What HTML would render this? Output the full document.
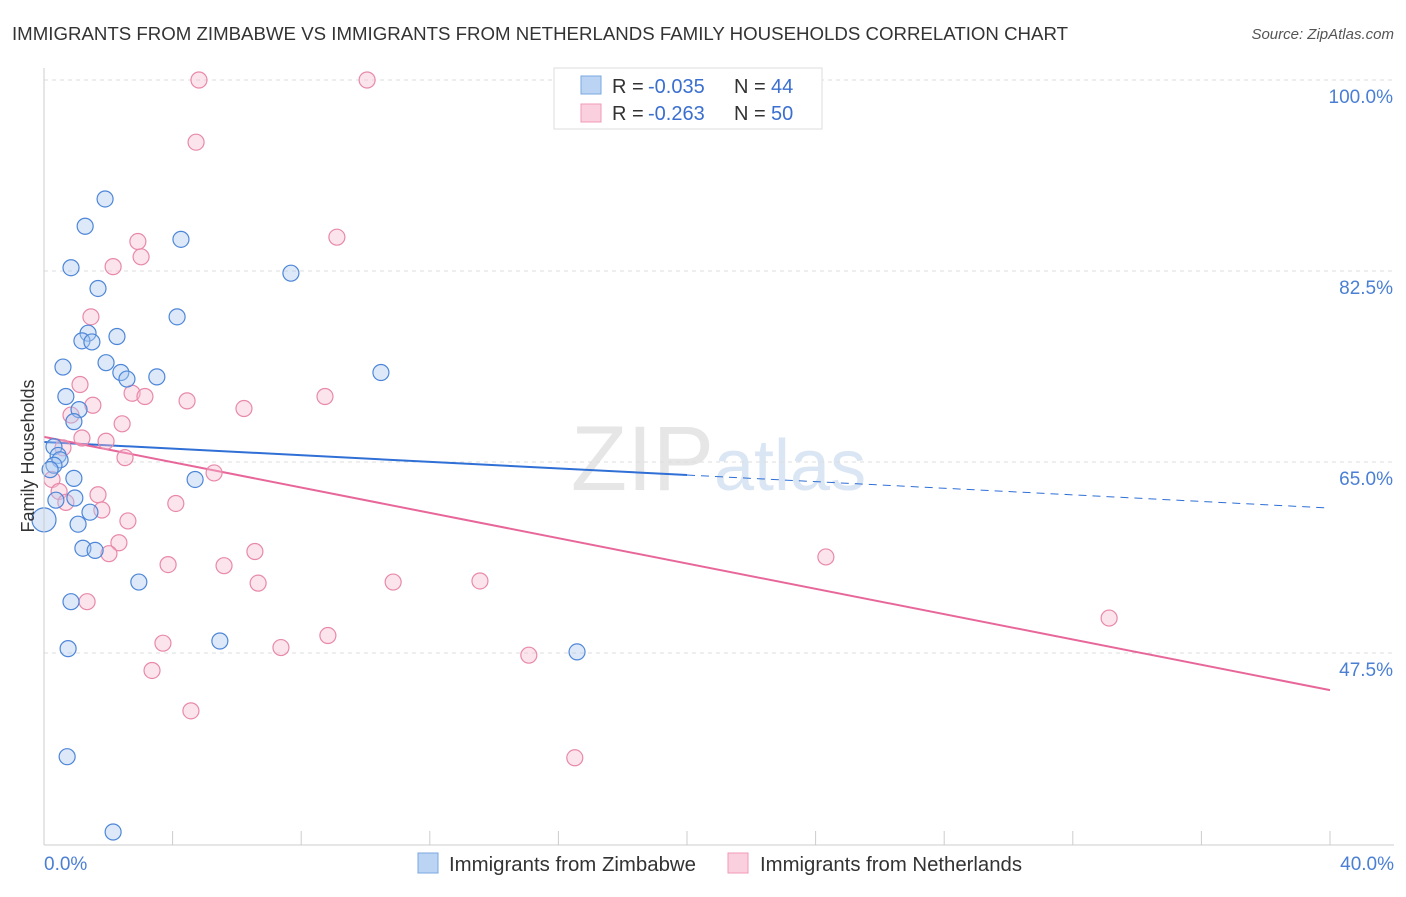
<!DOCTYPE html>
<html><head><meta charset="utf-8"><style>
body{margin:0;background:#fff;font-family:"Liberation Sans",sans-serif}
svg text{font-family:"Liberation Sans",sans-serif}
</style></head><body>
<svg id="c" width="1406" height="892" xmlns="http://www.w3.org/2000/svg">
<text x="12" y="40" font-size="18" fill="#333" textLength="1056" lengthAdjust="spacingAndGlyphs">IMMIGRANTS FROM ZIMBABWE VS IMMIGRANTS FROM NETHERLANDS FAMILY HOUSEHOLDS CORRELATION CHART</text>
<text x="1394" y="39" font-size="15" fill="#555" font-style="italic" text-anchor="end">Source: ZipAtlas.com</text>
<text x="714" y="490" font-size="92" fill="#e6e6e6" text-anchor="end" font-family="Liberation Serif">ZIP</text>
<text x="714" y="490" font-size="72" fill="#dbe6f4">atlas</text>
<g id="grid"></g><g id="ticks"></g><g id="trends"></g><g id="pts"></g>
<line x1="44" y1="68" x2="44" y2="845" stroke="#ccc"/>
<line x1="44" y1="845" x2="1394" y2="845" stroke="#ccc"/>
<text transform="translate(34,456) rotate(-90)" font-size="18" fill="#333" text-anchor="middle">Family Households</text>
<text x="44" y="870" font-size="19" fill="#4a7fd4">0.0%</text>
<text x="1394" y="870" font-size="19" fill="#4a7fd4" text-anchor="end">40.0%</text>
<g>
<rect x="554" y="68" width="268" height="61" fill="#fff" stroke="#ddd"/>
<rect x="581" y="76" width="20" height="18" fill="#bcd4f4" stroke="#7aa7e0"/>
<rect x="581" y="104" width="20" height="18" fill="#fbd0de" stroke="#f09ab8"/>
<text x="612" y="93" font-size="20" fill="#333">R =</text>
<text x="648" y="93" font-size="20" fill="#3a6fd0">-0.035</text>
<text x="734" y="93" font-size="20" fill="#333">N =</text>
<text x="771" y="93" font-size="20" fill="#3a6fd0">44</text>
<text x="612" y="120" font-size="20" fill="#333">R =</text>
<text x="648" y="120" font-size="20" fill="#3a6fd0">-0.263</text>
<text x="734" y="120" font-size="20" fill="#333">N =</text>
<text x="771" y="120" font-size="20" fill="#3a6fd0">50</text>
</g>
<g>
<rect x="418" y="853" width="20" height="20" fill="#bcd4f4" stroke="#7aa7e0"/>
<text x="449" y="871" font-size="20" fill="#333" textLength="247" lengthAdjust="spacingAndGlyphs">Immigrants from Zimbabwe</text>
<rect x="728" y="853" width="20" height="20" fill="#fbd0de" stroke="#f09ab8"/>
<text x="760" y="871" font-size="20" fill="#333" textLength="262" lengthAdjust="spacingAndGlyphs">Immigrants from Netherlands</text>
</g>
</svg>
<script>
const yTicks=[100,82.5,65,47.5];
const yTickLabels=["100.0%","82.5%","65.0%","47.5%"];
const blueX=[1.90,1.28,4.26,0.84,7.68,1.68,4.14,1.37,2.27,1.18,1.49,0.59,1.93,2.39,2.58,3.51,10.48,0.68,1.09,0.93,0.31,0.44,0.50,0.31,0.19,0.93,4.70,0.37,0.96,1.43,0,1.06,1.21,1.59,2.95,0.84,5.47,0.75,16.58,0.72,2.15];
const blueY=[89.1,86.6,85.4,82.8,82.3,80.9,78.3,76.8,76.5,76.1,76.0,73.7,74.1,73.2,72.6,72.8,73.2,71.0,69.8,68.7,66.4,65.6,65.2,64.7,64.3,63.5,63.4,61.5,61.7,60.4,59.7,59.3,57.1,56.9,54.0,52.2,48.6,47.9,47.6,38.0,31.1];
const pinkX=[4.82,10.05,4.73,2.92,9.11,3.02,2.15,1.46,1.12,2.74,3.14,4.45,8.74,6.22,1.52,0.84,2.43,1.18,1.93,0.59,2.52,5.29,0.25,0.47,1.68,0.68,4.10,1.80,2.61,2.33,2.02,6.56,24.32,3.86,5.60,6.66,10.86,13.56,1.34,33.13,8.83,3.70,7.37,15.08,3.36,4.57,16.51];
const pinkY=[100,100,94.3,85.2,85.6,83.8,82.9,78.3,72.1,71.3,71.0,70.6,71.0,69.9,70.2,69.3,68.5,67.2,66.9,66.3,65.4,64.0,63.4,62.3,62.0,61.3,61.2,60.6,59.6,57.6,56.6,56.8,56.3,55.6,55.5,53.9,54.0,54.1,52.2,50.7,49.1,48.4,48.0,47.3,45.9,42.2,37.9];
const blueTrend=[66.83,60.78];
const pinkTrend=[67.3,44.1];
const X=v=>44+v/40*1286, Y=v=>80+(100-v)*191/17.5;
const NS="http://www.w3.org/2000/svg";
function mk(p,t,a){const e=document.createElementNS(NS,t);for(const k in a)e.setAttribute(k,a[k]);document.getElementById(p).appendChild(e);return e;}
yTicks.forEach((v,i)=>{
 const l=mk('grid','line',{x1:44,x2:1394,y1:Y(v),y2:Y(v),stroke:'#ddd','stroke-dasharray':'4,4'});
 
 
 const t=mk('grid','text',{x:1393,y:Y(v)+23,'font-size':19,fill:'#4a7fd4','text-anchor':'end'});
 t.textContent=yTickLabels[i];
 
 
});
for(let i=0;i<=10;i++){
 const l=mk('ticks','line',{x1:X(i*4),x2:X(i*4),y1:831,y2:845,stroke:'#ccc'});
 
 
}
function pts(xs,ys,fill,stroke,name){xs.forEach((x,i)=>{
 const c=mk('pts','circle',{cx:X(x),cy:Y(ys[i]),r:x===0?12:8,fill:fill,'fill-opacity':0.4,stroke:stroke,'stroke-width':1.2});
 
 
});}
pts(pinkX,pinkY,'#f8bcd0','#e889aa','point-netherlands');
pts(blueX,blueY,'#a9c8f0','#4d86d8','point-zimbabwe');
const split=20;
const bm=blueTrend[0]+(blueTrend[1]-blueTrend[0])*(split/40);
let l=mk('trends','line',{x1:X(0),y1:Y(blueTrend[0]),x2:X(split),y2:Y(bm),stroke:'#2f6fd6','stroke-width':2});


l=mk('trends','line',{x1:X(split),y1:Y(bm),x2:X(40),y2:Y(blueTrend[1]),stroke:'#2f6fd6','stroke-width':1,'stroke-dasharray':'8,6'});


l=mk('trends','line',{x1:X(0),y1:Y(pinkTrend[0]),x2:X(40),y2:Y(pinkTrend[1]),stroke:'#e8679a','stroke-width':2});


</script>
</body></html>
